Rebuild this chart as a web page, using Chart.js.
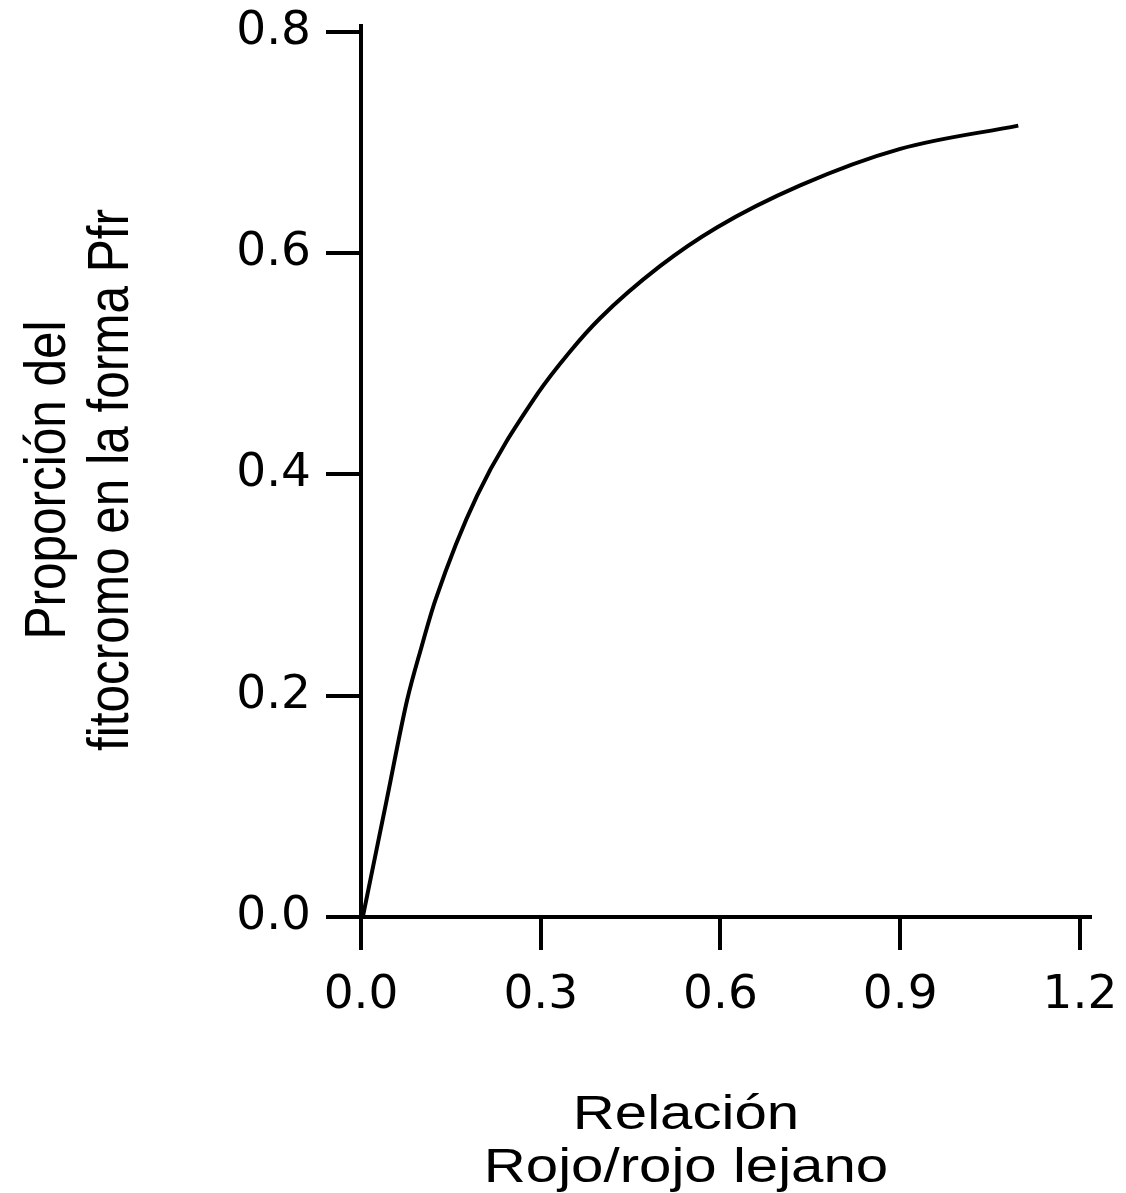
<!DOCTYPE html>
<html>
<head>
<meta charset="utf-8">
<script src="https://cdn.jsdelivr.net/npm/chart.js@4"></script>
<style>
  html, body { margin: 0; padding: 0; background: #fff; }
  #chart-area { display: block; }
</style>
</head>
<body>
<canvas id="chart-area" width="1126" height="1193"></canvas>
<script>
// values
var ratioRed = [0.003, 0.043, 0.077, 0.101, 0.124, 0.194, 0.295, 0.349, 0.399, 0.499, 0.594, 0.733, 0.900, 1.097];
var pfrShare = [0.000, 0.106, 0.196, 0.244, 0.286, 0.381, 0.473, 0.511, 0.541, 0.588, 0.623, 0.661, 0.694, 0.715];
var xTicks = [0, 0.3, 0.6, 0.9, 1.2];
var yTicks = [0, 0.2, 0.4, 0.6, 0.8];
var yTitle = ["Proporción del", "fitocromo en la forma Pfr"];
var xTitle = ["Relación", "Rojo/rojo lejano"];

var points = [];
for (var i = 0; i < ratioRed.length; i++) {
    points.push({x: ratioRed[i], y: pfrShare[i]});
}

var tickFont = {family: "'DejaVu Sans', sans-serif", size: 47};
var stretch = 1.2;

// axis titles, drawn a bit wide like the scanned figure
var titlePlugin = {
    id: 'titles',
    afterDraw: function(chart) {
        var c = chart.ctx;
        c.save();
        c.fillStyle = '#000';
        c.textAlign = 'center';
        c.textBaseline = 'alphabetic';
        c.font = "49.5px 'Liberation Sans', Arial, sans-serif";
        var ys = [65, 128];
        for (var k = 0; k < yTitle.length; k++) {
            c.save();
            c.translate(ys[k], 480);
            c.scale(1.15, 1);
            c.rotate(-Math.PI / 2);
            c.fillText(yTitle[k], 0, 0);
            c.restore();
        }
        c.font = "48.5px 'Liberation Sans', Arial, sans-serif";
        var xs = [1129, 1182];
        for (var j = 0; j < xTitle.length; j++) {
            c.save();
            c.translate(686, xs[j]);
            c.scale(stretch, 1);
            c.fillText(xTitle[j], 0, 0);
            c.restore();
        }
        c.restore();
    }
};

var config = {
    type: 'line',
    data: {
        datasets: [{
            data: points,
            borderColor: '#000',
            borderWidth: 4,
            pointRadius: 0,
            cubicInterpolationMode: 'monotone',
            fill: false
        }]
    },
    options: {
        responsive: false,
        animation: false,
        devicePixelRatio: 1,
        layout: {padding: {top: 26, right: 36, left: 0, bottom: 0}},
        plugins: {legend: {display: false}, tooltip: {enabled: false}},
        scales: {
            x: {
                type: 'linear',
                min: 0,
                max: 1.2167,
                afterBuildTicks: function(scale) {
                    scale.ticks = xTicks.map(function(v) { return {value: v}; });
                },
                afterFit: function(scale) {
                    scale.height = 1193 - 917;
                    scale.paddingLeft = 0;
                    scale.paddingRight = 0;
                },
                border: {display: true, color: '#000', width: 4},
                grid: {drawOnChartArea: false, drawTicks: true, tickLength: 33, color: '#000', lineWidth: 4},
                ticks: {
                    color: '#000',
                    font: tickFont,
                    padding: 18,
                    maxRotation: 0,
                    callback: function(v) { return v.toFixed(1); }
                }
            },
            y: {
                type: 'linear',
                min: 0,
                max: 0.805,
                afterBuildTicks: function(scale) {
                    scale.ticks = yTicks.map(function(v) { return {value: v}; });
                },
                afterFit: function(scale) {
                    scale.width = 361;
                    scale.paddingTop = 0;
                    scale.paddingBottom = 0;
                },
                border: {display: true, color: '#000', width: 4},
                grid: {drawOnChartArea: false, drawTicks: true, tickLength: 35, color: '#000', lineWidth: 4},
                ticks: {
                    color: '#000',
                    font: tickFont,
                    padding: 15,
                    callback: function(v) { return v.toFixed(1); }
                }
            }
        }
    },
    plugins: [titlePlugin]
};

window.onload = function() {
    var ctx = document.getElementById("chart-area").getContext("2d");
    window.myLine = new Chart(ctx, config);
};
</script>
</body>
</html>
